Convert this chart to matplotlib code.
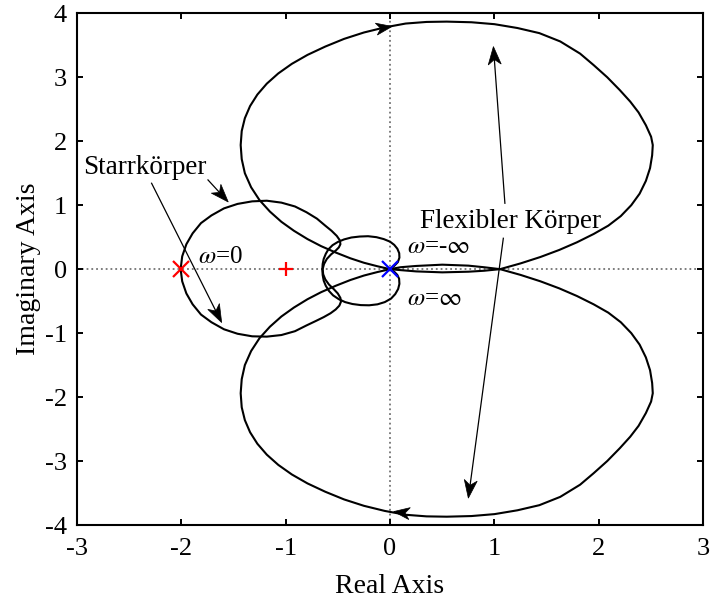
import numpy as np
import matplotlib
matplotlib.use("Agg")
import matplotlib.pyplot as plt
from matplotlib.patches import Polygon

plt.rcParams['font.family'] = ['Liberation Serif', 'DejaVu Serif']
plt.rcParams['mathtext.fontset'] = 'stix'
plt.rcParams['axes.unicode_minus'] = False

# Ortskurve flexibler Koerper, obere Schleife (Ursprung -> links -> oben -> rechts -> Linse unten)
flex_up_x = [0.0, -0.12, -0.25, -0.38, -0.52, -0.66, -0.79, -0.92, -1.04, -1.15, -1.25, -1.33, -1.39,
             -1.42, -1.43, -1.42, -1.39, -1.34, -1.27, -1.18, -1.07, -0.94, -0.79, -0.62, -0.44,
             -0.25, -0.05, 0.15, 0.35, 0.543, 0.78, 1.0, 1.22, 1.43, 1.63, 1.82, 1.95, 2.08, 2.20,
             2.30, 2.38, 2.45, 2.50, 2.516, 2.51, 2.49, 2.45, 2.39, 2.31, 2.21, 2.09, 1.95, 1.79,
             1.62, 1.44, 1.25, 1.054, 0.9, 0.75, 0.5, 0.25, 0.1, 0.0]
flex_up_y = [0.0, 0.045, 0.10, 0.17, 0.26, 0.36, 0.47, 0.60, 0.74, 0.90, 1.08, 1.28, 1.50,
             1.72, 1.94, 2.16, 2.36, 2.55, 2.73, 2.90, 3.06, 3.21, 3.35, 3.48, 3.60,
             3.70, 3.78, 3.84, 3.865, 3.87, 3.86, 3.83, 3.77, 3.69, 3.56, 3.37, 3.19, 3.0, 2.80,
             2.62, 2.45, 2.25, 2.07, 1.94, 1.78, 1.58, 1.38, 1.18, 1.0, 0.83, 0.68, 0.55, 0.42,
             0.30, 0.19, 0.09, 0.0, -0.025, -0.04, -0.05, -0.035, -0.015, 0.0]

# untere Schleife (Ursprung -> Linse oben -> rechts -> unten -> links -> Ursprung)
flex_lo_x = [0.0, 0.1, 0.25, 0.5, 0.75, 0.9, 1.054, 1.25, 1.44, 1.62, 1.79, 1.95, 2.09, 2.21, 2.31,
             2.39, 2.45, 2.49, 2.51, 2.516, 2.50, 2.45, 2.38, 2.30, 2.20, 2.08, 1.95, 1.82, 1.63,
             1.43, 1.22, 1.0, 0.78, 0.543, 0.35, 0.15, -0.05, -0.25, -0.44, -0.62, -0.79, -0.94,
             -1.07, -1.18, -1.27, -1.34, -1.39, -1.42, -1.43, -1.42, -1.39, -1.33, -1.25, -1.15,
             -1.04, -0.92, -0.79, -0.66, -0.52, -0.38, -0.25, -0.12, 0.0]
flex_lo_y = [0.0, 0.03, 0.05, 0.07, 0.055, 0.03, 0.0, -0.09, -0.19, -0.30, -0.42, -0.55, -0.68, -0.83, -1.0,
             -1.18, -1.38, -1.58, -1.78, -1.94, -2.07, -2.25, -2.45, -2.62, -2.80, -3.0, -3.19, -3.37, -3.56,
             -3.69, -3.77, -3.83, -3.86, -3.87, -3.865, -3.84, -3.78, -3.70, -3.60, -3.48, -3.35, -3.21,
             -3.06, -2.90, -2.73, -2.55, -2.36, -2.16, -1.94, -1.72, -1.50, -1.28, -1.08, -0.90,
             -0.74, -0.60, -0.47, -0.36, -0.26, -0.17, -0.10, -0.045, 0.0]

# Ortskurve Starrkoerper
rigid_x = [-2.005, -1.99, -1.95, -1.89, -1.81, -1.71, -1.59, -1.46, -1.32, -1.18, -1.04, -0.91, -0.80,
           -0.70, -0.62, -0.56, -0.51, -0.48, -0.475, -0.49, -0.52, -0.565, -0.605, -0.632, -0.645,
           -0.64, -0.62, -0.585, -0.54, -0.50, -0.475, -0.47, -0.485, -0.52, -0.57, -0.635, -0.71,
           -0.80, -0.91, -1.04, -1.18, -1.32, -1.46, -1.59, -1.71, -1.81, -1.89, -1.95, -1.99, -2.005]
rigid_y = [0.0, 0.2, 0.39, 0.56, 0.72, 0.84, 0.95, 1.02, 1.06, 1.07, 1.04, 0.98, 0.89,
           0.79, 0.68, 0.60, 0.52, 0.45, 0.39, 0.34, 0.29, 0.23, 0.16, 0.08, 0.0,
           -0.08, -0.16, -0.24, -0.31, -0.38, -0.45, -0.51, -0.57, -0.63, -0.69, -0.75, -0.81,
           -0.88, -0.97, -1.03, -1.055, -1.05, -1.01, -0.94, -0.83, -0.71, -0.55, -0.38, -0.19, 0.0]

# kleine Schleife um den Ursprung
loop_x = [0.0, 0.04, 0.075, 0.09, 0.088, 0.07, 0.04, 0.0, -0.06, -0.13, -0.21, -0.29, -0.37, -0.44,
          -0.50, -0.55, -0.59, -0.615, -0.635, -0.645, -0.648, -0.645, -0.635, -0.615, -0.585,
          -0.545, -0.49, -0.43, -0.36, -0.28, -0.20, -0.12, -0.05, 0.01, 0.05, 0.078, 0.09, 0.087,
          0.07, 0.04, 0.0]
loop_y = [0.0, 0.05, 0.11, 0.18, 0.25, 0.32, 0.38, 0.43, 0.47, 0.50, 0.515, 0.51, 0.495, 0.465,
          0.425, 0.375, 0.31, 0.24, 0.16, 0.08, 0.0, -0.09, -0.18, -0.26, -0.34,
          -0.41, -0.47, -0.515, -0.545, -0.562, -0.565, -0.55, -0.515, -0.46, -0.39, -0.31, -0.23, -0.15,
          -0.09, -0.04, 0.0]

# Pfeile (Beschriftung): (Start, Spitze)
starr_arrows = [((-1.743, 1.395), (-1.549, 1.050)), ((-2.283, 1.343), (-1.612, -0.835))]
flex_arrows = [((1.10, 1.03), (0.99, 3.48)), ((1.085, 0.483), (0.75, -3.58))]
# Richtungspfeile auf der Kurve
dir_arrows = [((-0.25, 3.72), (0.02, 3.795)), ((0.30, -3.845), (0.035, -3.79))]

fig = plt.figure(figsize=(7.11, 6.02), dpi=100)
fig.subplots_adjust(left=0.1079, right=0.9892, top=0.9779, bottom=0.1279)
ax = fig.add_subplot(111)
ax.set_xlim(-3, 3)
ax.set_ylim(-4, 4)

ax.axhline(0, color='0.45', ls=':', lw=1.3, zorder=1)
ax.axvline(0, color='0.45', ls=':', lw=1.3, zorder=1)

for xs, ys in [(flex_up_x, flex_up_y), (flex_lo_x, flex_lo_y), (rigid_x, rigid_y), (loop_x, loop_y)]:
    ax.plot(xs, ys, color='k', lw=1.5, zorder=3, solid_joinstyle='round')

ax.plot(-2, 0, 'x', color='r', ms=12, mew=1.6, zorder=4)
ax.plot(-1, 0, '+', color='r', ms=10, mew=1.6, zorder=4)
ax.plot(0, 0, 'x', color='b', ms=11, mew=1.6, zorder=4)


def arrow_head(tail, tip, length=17, width=12):
    p0 = ax.transData.transform(tail)
    p1 = ax.transData.transform(tip)
    d = (p1 - p0) / np.hypot(*(p1 - p0))
    n = np.array([-d[1], d[0]])
    pts = [p1, p1 - d * length + n * width / 2, p1 - d * length * 0.72, p1 - d * length - n * width / 2]
    ax.add_patch(Polygon(ax.transData.inverted().transform(pts), closed=True,
                         facecolor='k', edgecolor='k', lw=0.5, zorder=5))
    return ax.transData.inverted().transform(p1 - d * length * 0.72)


for tail, tip in starr_arrows + flex_arrows:
    end = arrow_head(tail, tip, length=18, width=13)
    ax.plot([tail[0], end[0]], [tail[1], end[1]], color='k', lw=0.9, zorder=5)

for tail, tip in dir_arrows:
    arrow_head(tail, tip, length=16, width=12)

ax.text(-2.35, 1.484, 'Starrkörper', fontsize=19.5, ha='center', va='baseline')
ax.text(1.157, 0.64, 'Flexibler Körper', fontsize=19.5, ha='center', va='baseline')
ax.text(-1.84, 0.097, r'$\omega$=0', fontsize=18, ha='left', va='baseline')
ax.text(0.16, 0.25, r'$\omega$=-$\infty$', fontsize=18, ha='left', va='baseline')
ax.text(0.16, -0.56, r'$\omega$=$\infty$', fontsize=18, ha='left', va='baseline')

ax.set_xticks([-3, -2, -1, 0, 1, 2, 3])
ax.set_yticks([-4, -3, -2, -1, 0, 1, 2, 3, 4])
ax.tick_params(direction='in', top=True, right=True, length=4, width=1.4, labelsize=19)
ax.tick_params(axis='x', pad=9.5)
ax.tick_params(axis='y', pad=7)
for s in ax.spines.values():
    s.set_linewidth(1.5)

ax.set_xlabel('Real Axis', fontsize=20, labelpad=10)
ax.set_ylabel('Imaginary Axis', fontsize=20, labelpad=3)

fig.savefig('out.png', dpi=100)
